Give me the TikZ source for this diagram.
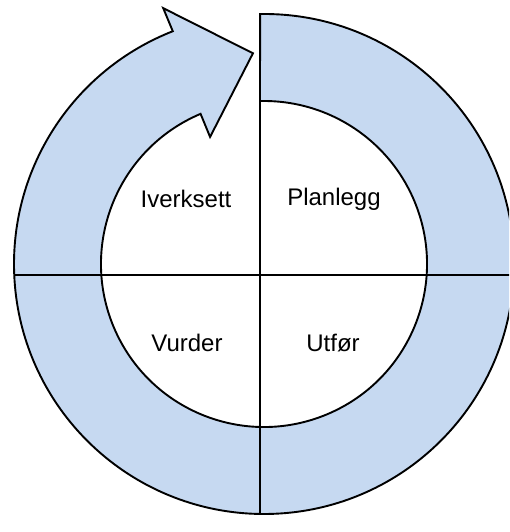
\documentclass[tikz,border=0pt]{standalone}
\usepackage{fontspec}
\setmainfont{Liberation Sans}
\definecolor{ringblue}{RGB}{198,217,241}
\begin{document}
\begin{tikzpicture}[x=1pt,y=1pt,line width=1.9pt,
    fase/.style={font=\fontsize{24}{28}\selectfont}]
    \clip (0,0) rectangle (509,532);
    \useasboundingbox (0,0) rectangle (509,532);

    % ring with arrow head
    \filldraw[fill=ringblue, draw=black, line join=miter, shift={(264,268)}]
        (90.9:250) arc[start angle=90.9, end angle=-248.6, radius=250]
        -- (111.5:275) -- (93:211) -- (113:138) -- (112.9:163)
        arc[start angle=112.9, end angle=451.4, radius=163] -- cycle;

    % cross
    \draw (14,257) -- (520,257);
    \draw (260,18) -- (260,518);

    \node[fase] (iverksett) at (186,333) {Iverksett};
    \node[fase] (planlegg) at (334,333) {Planlegg};
    \node[fase] (vurder) at (187,189) {Vurder};
    \node[fase] (utfor) at (333,189) {Utfør};
\end{tikzpicture}
\end{document}
